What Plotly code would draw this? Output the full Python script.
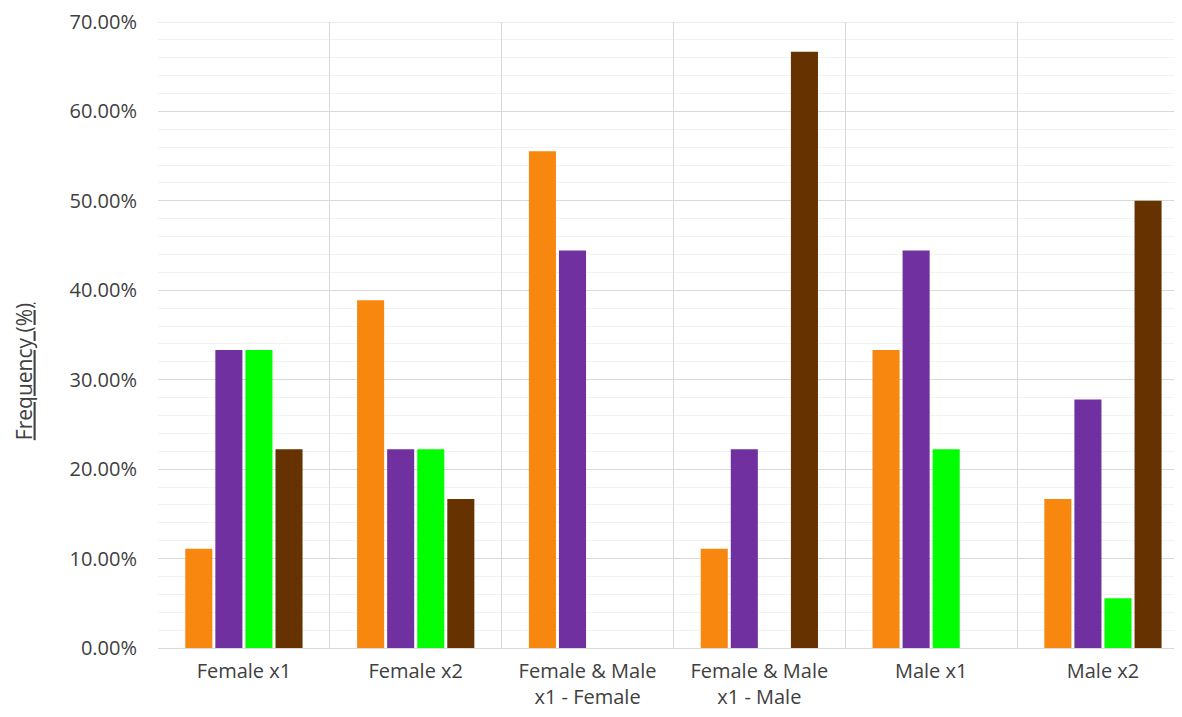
import plotly.graph_objects as go

categories = ["Female x1", "Female x2", "Female & Male<br>x1 - Female",
              "Female & Male<br>x1 - Male", "Male x1", "Male x2"]
series_names = ["Series 1", "Series 2", "Series 3", "Series 4"]
s1 = [0.1111, 0.3889, 0.5556, 0.1111, 0.3333, 0.1667]
s2 = [0.3333, 0.2222, 0.4444, 0.2222, 0.4444, 0.2778]
s3 = [0.3333, 0.2222, 0.0, 0.0, 0.2222, 0.0556]
s4 = [0.2222, 0.1667, 0.0, 0.6667, 0.0, 0.5000]
colors = ["#F7870F", "#7030A0", "#00FF00", "#663300"]

fig = go.Figure()
for name, vals, col in zip(series_names, [s1, s2, s3, s4], colors):
    fig.add_trace(go.Bar(x=categories, y=vals, name=name,
                         marker=dict(color=col, line=dict(width=0))))

FONT = "Open Sans"
TXT = "#404040"
fig.update_layout(
    width=1174, height=709,
    margin=dict(l=150, r=0, t=14, b=69),
    paper_bgcolor="white", plot_bgcolor="white",
    barmode="group", bargap=0.3, bargroupgap=0.1,
    showlegend=False,
    font=dict(family=FONT, size=20, color=TXT),
)
fig.update_xaxes(
    type="category", range=[-0.5, 5.46], automargin=False,
    tickson="boundaries", showgrid=True, gridcolor="#D9D9D9", gridwidth=1,
    ticks="", showline=True, linecolor="#D9D9D9", linewidth=1,
    ticklabelstandoff=5,
    tickfont=dict(family=FONT, size=20, color=TXT),
)
fig.update_yaxes(
    range=[0, 0.7], dtick=0.1, tickformat=".2%", automargin=False,
    showgrid=True, gridcolor="#D9D9D9", gridwidth=1,
    minor=dict(dtick=0.02, showgrid=True, gridcolor="#F2F2F2", gridwidth=1),
    zeroline=False, ticks="", ticklabelstandoff=20,
    tickfont=dict(family=FONT, size=20, color=TXT),
)
fig.add_shape(type="line", xref="paper", yref="y", x0=0, x1=1, y0=0.7, y1=0.7,
              line=dict(color="#D9D9D9", width=1), layer="below")
fig.add_annotation(text="<u>Frequency (%)</u>", textangle=-90,
                   xref="paper", yref="paper", x=-0.131, y=0.442,
                   xanchor="center", yanchor="middle", showarrow=False,
                   font=dict(family=FONT, size=21, color=TXT))

fig.write_html("out.html")
